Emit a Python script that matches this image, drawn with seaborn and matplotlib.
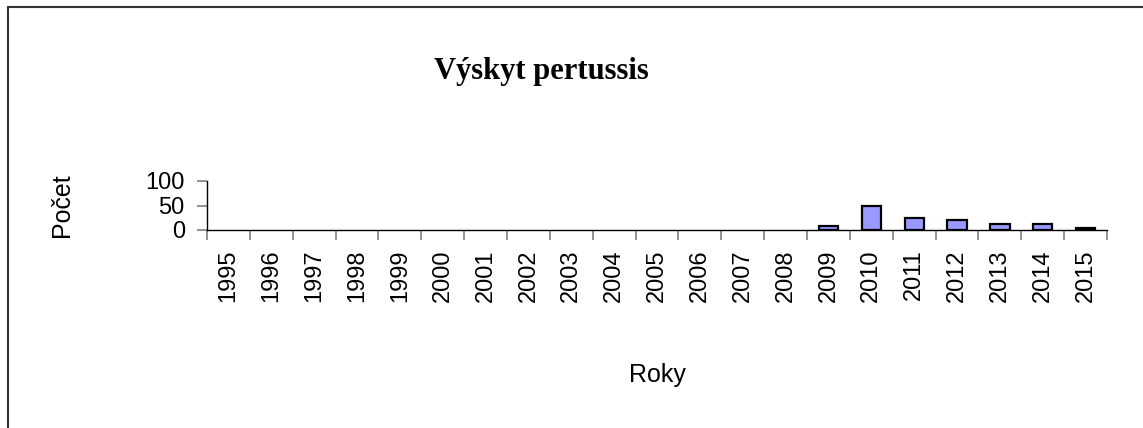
import numpy as np
import pandas as pd
import matplotlib.pyplot as plt
from matplotlib.ticker import FixedLocator
from matplotlib.lines import Line2D
import seaborn as sns

# Data
years = ["1995", "1996", "1997", "1998", "1999", "2000", "2001", "2002", "2003", "2004",
         "2005", "2006", "2007", "2008", "2009", "2010", "2011", "2012", "2013", "2014", "2015"]
cases = [0, 0, 0, 0, 0, 0, 0, 0, 0, 0,
         0, 0, 0, 0, 8, 50, 24, 21, 12, 12, 4]
y_ticks = [0, 50, 100]

df = pd.DataFrame({"Rok": years, "Pocet": cases})

sns.set_style("white")
plt.rcParams["font.family"] = ["Liberation Sans", "DejaVu Sans"]
plt.rcParams["text.color"] = "black"
plt.rcParams["xtick.color"] = "black"
plt.rcParams["ytick.color"] = "black"

fig = plt.figure(figsize=(11.43, 4.28), dpi=100)
ax = fig.add_axes([207 / 1143, 1 - 230 / 428, 900 / 1143, 49 / 428])

sns.barplot(data=df, x="Rok", y="Pocet", color="#9999FF", saturation=1,
            width=0.45, edgecolor="black", linewidth=1.6, ax=ax)

# empty years have no visible bar at all
for bar in ax.patches:
    if bar.get_height() == 0:
        bar.set_linewidth(0)

ax.set_xlim(-0.5, len(years) - 0.5)
ax.set_ylim(0, 100)
ax.set_yticks(y_ticks)
ax.set_xlabel("")
ax.set_ylabel("")

for side in ["top", "right"]:
    ax.spines[side].set_visible(False)
for side in ["left", "bottom"]:
    ax.spines[side].set_color("black")
    ax.spines[side].set_linewidth(1)

# tick marks sit between categories, labels at the centres
ax.xaxis.set_minor_locator(FixedLocator(np.arange(-0.5, len(years), 1)))
ax.tick_params(axis="x", which="major", bottom=True, length=0, pad=14,
               labelsize=17, labelrotation=90, labelcolor="black")
ax.tick_params(axis="x", which="minor", bottom=True, length=7, width=1.2, color="#808080")
ax.tick_params(axis="y", left=True, length=7, width=1.2, pad=9, labelsize=17,
               color="#808080", labelcolor="black")

fig.text(541 / 1143, 1 - 71 / 428, "Výskyt pertussis", family="Liberation Serif",
         weight="bold", fontsize=22, ha="center", va="center", color="black")
fig.text(62 / 1143, 1 - 205 / 428, "Počet", rotation=90, fontsize=18,
         ha="center", va="center", color="black")
fig.text(657 / 1143, 1 - 375 / 428, "Roky", fontsize=18, ha="center", va="center",
         color="black")

# chart area border (cropped on the right and bottom)
fig.add_artist(Line2D([8 / 1143, 8 / 1143], [0, 1 - 7 / 428], transform=fig.transFigure,
                      color="#333333", linewidth=1.5))
fig.add_artist(Line2D([8 / 1143, 1], [1 - 7 / 428, 1 - 7 / 428], transform=fig.transFigure,
                      color="#333333", linewidth=1.5))

fig.savefig("out.png", dpi=100)
